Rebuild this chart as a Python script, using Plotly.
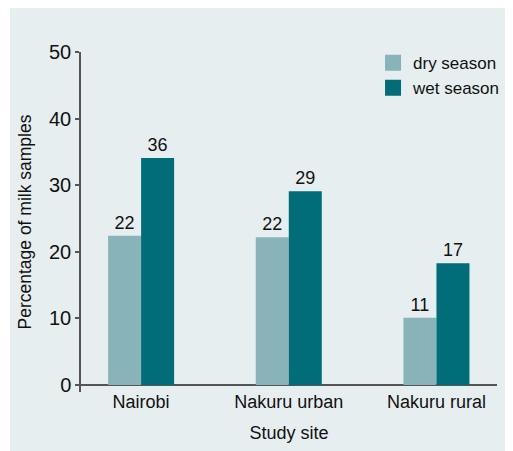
import plotly.graph_objects as go

sites = ["Nairobi", "Nakuru urban", "Nakuru rural"]
dry_values = [22.4, 22.2, 10.1]
wet_values = [34.1, 29.1, 18.3]
dry_labels = ["22", "22", "11"]
wet_labels = ["36", "29", "17"]
series_names = ["dry season", "wet season"]
y_ticks = [0, 10, 20, 30, 40, 50]

DRY = "#88b3b9"
WET = "#006d78"
PANEL = "#e6eef0"
AXIS = "#555555"
FONT = "Liberation Sans, Arial, sans-serif"

fig = go.Figure()
for name, vals, labs, col in [(series_names[0], dry_values, dry_labels, DRY),
                              (series_names[1], wet_values, wet_labels, WET)]:
    fig.add_trace(go.Bar(
        x=sites, y=vals, name=name, marker=dict(color=col, line=dict(width=0)),
        text=labs, textposition="outside", constraintext="none", cliponaxis=False,
        textfont=dict(size=18, color="#111111", family=FONT),
        showlegend=False,
    ))
    fig.add_trace(go.Scatter(
        x=[None], y=[None], mode="markers", name=name,
        marker=dict(symbol="square", size=16, color=col),
    ))

fig.update_layout(
    width=513, height=451,
    margin=dict(l=73, r=24, t=44, b=67, autoexpand=False),
    paper_bgcolor="white",
    plot_bgcolor=PANEL,
    barmode="group", bargap=0.553, bargroupgap=0,
    font=dict(family=FONT, color="#111111", size=17),
    legend=dict(x=0.702, y=1.02, xanchor="left", yanchor="top",
                bgcolor="rgba(0,0,0,0)", font=dict(size=17), itemsizing="trace",
                tracegroupgap=0),
    shapes=[dict(type="rect", xref="paper", yref="paper",
                 x0=-0.1707, x1=1.2, y0=-0.3, y1=1.2,
                 fillcolor=PANEL, line=dict(width=0), layer="below")],
    xaxis=dict(type="category", range=[-0.407, 2.41], showline=False,
               ticks="", showgrid=False, zeroline=False, automargin=False,
               tickfont=dict(size=18), ticklabelstandoff=-3,
               title=dict(text="Study site", font=dict(size=18), standoff=15)),
    yaxis=dict(range=[-1.05, 50], tickvals=y_ticks, showgrid=False, automargin=False,
               showline=True, linecolor=AXIS, linewidth=1.5,
               ticks="outside", ticklen=4, tickcolor=AXIS, tickwidth=1.5,
               zeroline=True, zerolinecolor=AXIS, zerolinewidth=1.5,
               tickfont=dict(size=20),
               title=dict(text="Percentage of milk samples", font=dict(size=17.5), standoff=13)),
)

fig.write_html("out.html")
